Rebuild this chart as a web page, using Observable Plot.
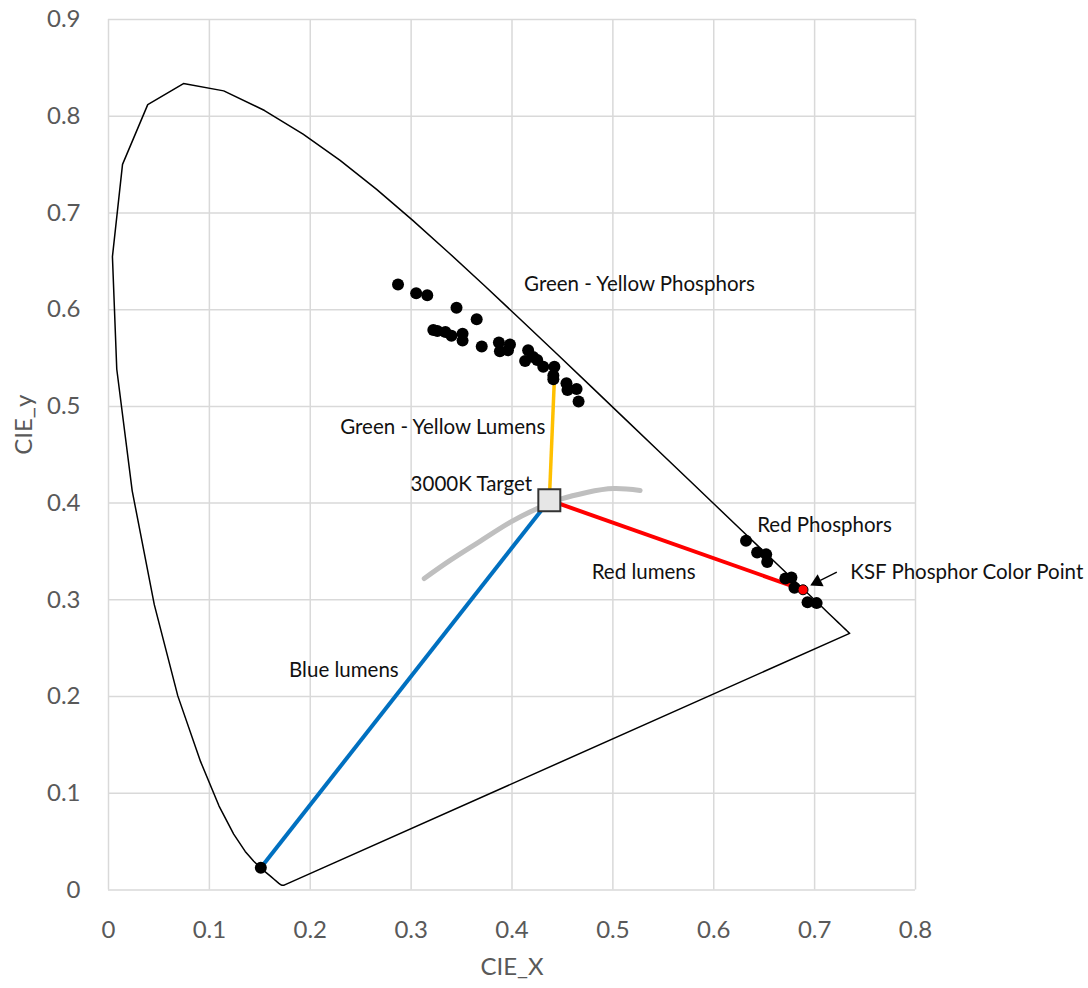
<!DOCTYPE html>
<html>
<head>
<meta charset="utf-8">
<script src="https://cdn.jsdelivr.net/npm/d3@7"></script>
<script src="https://cdn.jsdelivr.net/npm/@observablehq/plot@0.6"></script>
<style>
  html, body { margin: 0; padding: 0; background: #fff; }
  #chart { width: 1088px; height: 988px; }
</style>
</head>
<body>
<div id="chart"></div>
<script>
// Spectral locus (CIE 1931), 380–700 nm in 5 nm steps
const locusX = [0.1741,0.1740,0.1738,0.1736,0.1733,0.1730,0.1726,0.1721,0.1714,0.1703,0.1689,0.1669,0.1644,0.1611,0.1566,0.1510,0.1440,0.1355,0.1241,0.1096,0.0913,0.0687,0.0454,0.0235,0.0082,0.0039,0.0139,0.0389,0.0743,0.1142,0.1547,0.1929,0.2296,0.2658,0.3016,0.3373,0.3731,0.4087,0.4441,0.4788,0.5125,0.5448,0.5752,0.6029,0.6270,0.6482,0.6658,0.6801,0.6915,0.7006,0.7079,0.7140,0.7190,0.7230,0.7260,0.7283,0.7300,0.7311,0.7320,0.7327,0.7334,0.7340,0.7344,0.7346,0.7347];
const locusY = [0.0050,0.0050,0.0049,0.0049,0.0048,0.0048,0.0048,0.0048,0.0051,0.0058,0.0069,0.0086,0.0109,0.0138,0.0177,0.0227,0.0297,0.0399,0.0578,0.0868,0.1327,0.2007,0.2950,0.4127,0.5384,0.6548,0.7502,0.8120,0.8338,0.8262,0.8059,0.7816,0.7543,0.7243,0.6923,0.6589,0.6245,0.5896,0.5547,0.5202,0.4866,0.4544,0.4242,0.3965,0.3725,0.3514,0.3340,0.3197,0.3083,0.2993,0.2920,0.2859,0.2809,0.2770,0.2740,0.2717,0.2700,0.2689,0.2680,0.2673,0.2666,0.2660,0.2656,0.2654,0.2653];

// Green - Yellow phosphors
const gyX = [0.287,0.305,0.316,0.345,0.365,0.322,0.326,0.334,0.340,0.351,0.351,0.370,0.387,0.388,0.398,0.396,0.416,0.413,0.421,0.425,0.431,0.442,0.441,0.441,0.454,0.455,0.464,0.466];
const gyY = [0.626,0.617,0.615,0.602,0.590,0.579,0.578,0.577,0.573,0.575,0.568,0.562,0.566,0.557,0.564,0.558,0.558,0.547,0.551,0.548,0.541,0.541,0.532,0.528,0.524,0.517,0.518,0.505];

// Red phosphors
const redX = [0.632,0.643,0.652,0.653,0.671,0.677,0.680,0.693,0.702];
const redY = [0.361,0.349,0.347,0.339,0.322,0.323,0.3125,0.2976,0.2966];

// KSF phosphor color point, blue LED point, 3000K target, green-yellow lumens end
const ksfPoint = {x: 0.6885, y: 0.3104};
const bluePoint = {x: 0.151, y: 0.023};
const targetPoint = {x: 0.437, y: 0.403};
const yellowEnd = {x: 0.442, y: 0.528};

// Planckian locus segment (gray)
const planckX = [0.313,0.339,0.369,0.398,0.425,0.448,0.474,0.501,0.527];
const planckY = [0.322,0.341,0.361,0.380,0.3945,0.404,0.411,0.415,0.413];

// Axis ticks
const xTicks = [0,0.1,0.2,0.3,0.4,0.5,0.6,0.7,0.8];
const xTickLabels = ["0","0.1","0.2","0.3","0.4","0.5","0.6","0.7","0.8"];
const yTicks = [0,0.1,0.2,0.3,0.4,0.5,0.6,0.7,0.8,0.9];
const yTickLabels = ["0","0.1","0.2","0.3","0.4","0.5","0.6","0.7","0.8","0.9"];

// Annotations
const labelsLeft = [
  {x: 0.412, y: 0.626, text: "Green - Yellow Phosphors"},
  {x: 0.643, y: 0.3765, text: "Red Phosphors"},
  {x: 0.479, y: 0.3286, text: "Red lumens"},
  {x: 0.7354, y: 0.3287, text: "KSF Phosphor Color Point"},
  {x: 0.179, y: 0.227, text: "Blue lumens"}
];
const labelsRight = [
  {x: 0.433, y: 0.478, text: "Green - Yellow Lumens"},
  {x: 0.420, y: 0.419, text: "3000K Target"}
];
const arrowStart = {x: 0.7220, y: 0.3287};
const arrowTip = {x: 0.6957, y: 0.3149};

// Build tables
const locus = locusX.map((x, i) => ({x, y: locusY[i]}));
locus.push(locus[0]);
const gy = gyX.map((x, i) => ({x, y: gyY[i]}));
const red = redX.map((x, i) => ({x, y: redY[i]}));
const planck = planckX.map((x, i) => ({x, y: planckY[i]}));
const lerp = (a, b, t) => ({x: a.x + (b.x - a.x) * t, y: a.y + (b.y - a.y) * t});
const arrowShaftEnd = lerp(arrowStart, arrowTip, 0.62);
const arrowHead = lerp(arrowStart, arrowTip, 0.74);

const FONT = "Lato, 'Open Sans', sans-serif";

const chart = Plot.plot({
  width: 1088,
  height: 988,
  marginLeft: 108,
  marginRight: 173,
  marginTop: 19,
  marginBottom: 98.5,
  x: {domain: [0, 0.8]},
  y: {domain: [0, 0.9]},
  style: {fontFamily: FONT, color: "#595959", background: "#fff"},
  marks: [
    Plot.gridX(xTicks, {stroke: "#d9d9d9", strokeOpacity: 1, strokeWidth: 1.5}),
    Plot.gridY(yTicks, {stroke: "#d9d9d9", strokeOpacity: 1, strokeWidth: 1.5}),
    Plot.axisX(xTicks, {tickSize: 0, tickPadding: 31, fontSize: 24, label: null,
      tickFormat: d => xTickLabels[xTicks.indexOf(d)]}),
    Plot.axisY(yTicks, {tickSize: 0, tickPadding: 28, fontSize: 24, label: null,
      tickFormat: d => yTickLabels[yTicks.indexOf(d)]}),
    Plot.text(["CIE_X"], {frameAnchor: "bottom", dy: 85, fontSize: 24, fill: "#595959"}),
    Plot.text(["CIE_y"], {frameAnchor: "left", dx: -84, rotate: -90, fontSize: 24, fill: "#595959"}),

    // spectral locus
    Plot.line(locus, {x: "x", y: "y", stroke: "#000", strokeWidth: 1.5, strokeLinejoin: "round"}),
    // Planckian locus
    Plot.line(planck, {x: "x", y: "y", stroke: "#bfbfbf", strokeWidth: 5, curve: "natural", strokeLinecap: "round"}),

    // lumens lines
    Plot.link([0], {x1: () => bluePoint.x, y1: () => bluePoint.y, x2: () => targetPoint.x, y2: () => targetPoint.y, stroke: "#0070c0", strokeWidth: 4}),
    Plot.link([0], {x1: () => targetPoint.x, y1: () => targetPoint.y, x2: () => ksfPoint.x, y2: () => ksfPoint.y, stroke: "#ff0000", strokeWidth: 4}),
    Plot.link([0], {x1: () => targetPoint.x, y1: () => targetPoint.y, x2: () => yellowEnd.x, y2: () => yellowEnd.y, stroke: "#ffc000", strokeWidth: 3.5}),

    // phosphor points
    Plot.dot(gy, {x: "x", y: "y", r: 6, fill: "#000", stroke: "none"}),
    Plot.dot(red, {x: "x", y: "y", r: 6, fill: "#000", stroke: "none"}),
    Plot.dot([bluePoint], {x: "x", y: "y", r: 6, fill: "#000", stroke: "none"}),
    Plot.dot([ksfPoint], {x: "x", y: "y", r: 5, fill: "#ff0000", stroke: "#000", strokeWidth: 1}),

    // target square
    Plot.dot([targetPoint], {x: "x", y: "y", symbol: "square", r: 12.4, fill: "#e6e6e6", stroke: "#333", strokeWidth: 2}),

    // arrow
    Plot.link([0], {x1: () => arrowStart.x, y1: () => arrowStart.y, x2: () => arrowShaftEnd.x, y2: () => arrowShaftEnd.y, stroke: "#000", strokeWidth: 1.3}),
    Plot.dot([arrowHead], {x: "x", y: "y", symbol: "triangle", r: 5, rotate: -116.5, fill: "#000", stroke: "none"}),

    // labels
    Plot.text(labelsLeft, {x: "x", y: "y", text: "text", textAnchor: "start", fontSize: 20.5, fill: "#111"}),
    Plot.text(labelsRight, {x: "x", y: "y", text: "text", textAnchor: "end", fontSize: 20.5, fill: "#111"})
  ]
});
document.getElementById("chart").appendChild(chart);
</script>
</body>
</html>
